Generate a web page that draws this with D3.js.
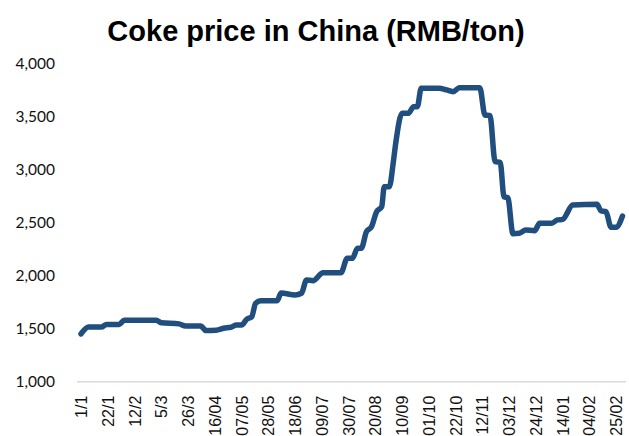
<!DOCTYPE html>
<html>
<head>
<meta charset="utf-8">
<script src="https://cdn.jsdelivr.net/npm/d3@7"></script>
<style>
  body { margin: 0; background: #fff; }
  svg { display: block; }
</style>
</head>
<body>
<div id="chart"></div>
<script>
// Coke price readings (dates where the curve turns)
const dates = [
  "2021-01-01", "2021-01-07", "2021-01-17", "2021-01-21", "2021-01-31", "2021-02-04",
  "2021-03-01", "2021-03-05", "2021-03-19", "2021-03-24", "2021-04-05", "2021-04-09",
  "2021-04-17", "2021-04-23", "2021-04-29", "2021-05-03", "2021-05-07", "2021-05-11",
  "2021-05-15", "2021-05-18", "2021-05-22", "2021-06-04", "2021-06-07", "2021-06-18",
  "2021-06-23", "2021-06-27", "2021-07-02", "2021-07-10", "2021-07-24", "2021-07-29",
  "2021-08-02", "2021-08-06", "2021-08-09", "2021-08-13", "2021-08-17", "2021-08-21",
  "2021-08-25", "2021-08-27", "2021-08-31", "2021-09-03", "2021-09-05", "2021-09-10",
  "2021-09-15", "2021-09-19", "2021-09-22", "2021-09-25", "2021-10-09", "2021-10-15",
  "2021-10-20", "2021-10-25", "2021-11-10", "2021-11-14", "2021-11-18", "2021-11-22",
  "2021-11-26", "2021-11-29", "2021-12-02", "2021-12-06", "2021-12-11", "2021-12-16",
  "2021-12-23", "2021-12-27", "2022-01-05", "2022-01-10", "2022-01-14", "2022-01-22",
  "2022-02-10", "2022-02-13", "2022-02-17", "2022-02-21", "2022-02-25", "2022-03-02"
];
const prices = [
  1450, 1515, 1515, 1540, 1540, 1580,
  1580, 1555, 1545, 1525, 1525, 1482,
  1485, 1503, 1515, 1534, 1534, 1588,
  1612, 1738, 1763, 1763, 1835, 1817,
  1833, 1958, 1952, 2027, 2027, 2163,
  2163, 2257, 2257, 2413, 2460, 2602,
  2649, 2837, 2837, 3058, 3246, 3529,
  3529, 3591, 3591, 3765, 3765, 3749,
  3733, 3770, 3770, 3513, 3506, 3073,
  3067, 2743, 2734, 2395, 2398, 2430,
  2423, 2492, 2492, 2524, 2530, 2665,
  2672, 2611, 2602, 2455, 2455, 2561
];

// x tick labels, one every 21 days from 1 Jan
const tickLabels = ["1/1", "22/1", "12/2", "5/3", "26/3", "16/04", "07/05", "28/05", "18/06",
  "09/07", "30/07", "20/08", "10/09", "01/10", "22/10", "12/11", "03/12", "24/12",
  "14/01", "04/02", "25/02"];
const yTicks = [1000, 1500, 2000, 2500, 3000, 3500, 4000];

const parseDate = d3.timeParse("%Y-%m-%d");
const data = dates.map((d, i) => ({ date: parseDate(d), price: prices[i] }));

const width = 629, height = 436;
const svg = d3.select("#chart").append("svg")
    .attr("width", width)
    .attr("height", height);

const start = parseDate("2021-01-01");
const tickDates = tickLabels.map((d, i) => d3.timeDay.offset(start, i * 21));

const xScale = d3.scaleTime()
    .domain([start, parseDate("2022-03-02")])
    .range([81, 622.5]);

const yScale = d3.scaleLinear()
    .domain([1000, 4000])
    .range([381.7, 63.3]);

// title
svg.append("text")
    .attr("x", 316)
    .attr("y", 41)
    .attr("text-anchor", "middle")
    .style("font-family", "'Liberation Sans', Arial, sans-serif")
    .style("font-weight", "bold")
    .style("font-size", "29px")
    .attr("fill", "#000")
    .text("Coke price in China (RMB/ton)");

// y axis labels only
const yAxis = d3.axisLeft(yScale)
    .tickValues(yTicks)
    .tickFormat(d3.format(","))
    .tickSize(0)
    .tickPadding(0);
const yg = svg.append("g")
    .attr("transform", "translate(55,0)")
    .call(yAxis);
yg.select(".domain").remove();
yg.selectAll("text")
    .style("font-family", "Lato, 'Open Sans', sans-serif")
    .style("font-size", "15.5px")
    .attr("fill", "#111");

// x axis baseline
svg.append("line")
    .attr("x1", 77)
    .attr("x2", 626)
    .attr("y1", yScale(1000))
    .attr("y2", yScale(1000))
    .attr("stroke", "#d9d9d9")
    .attr("stroke-width", 1.5);

// x axis labels, rotated
const xAxis = d3.axisBottom(xScale)
    .tickValues(tickDates)
    .tickFormat((d, i) => tickLabels[i])
    .tickSize(0);
const xg = svg.append("g")
    .attr("transform", `translate(0,${yScale(1000)})`)
    .call(xAxis);
xg.select(".domain").remove();
xg.selectAll("text")
    .attr("transform", "rotate(-90)")
    .attr("x", -14)
    .attr("y", 0)
    .attr("dy", "0.35em")
    .style("text-anchor", "end")
    .style("font-family", "'Liberation Sans', Arial, sans-serif")
    .style("font-size", "16px")
    .attr("fill", "#111");

// price line
const line = d3.line()
    .x(d => xScale(d.date))
    .y(d => yScale(d.price))
    .curve(d3.curveMonotoneX);

svg.append("path")
    .datum(data)
    .attr("fill", "none")
    .attr("stroke", "#1f4e7f")
    .attr("stroke-width", 5.5)
    .attr("stroke-linecap", "round")
    .attr("stroke-linejoin", "round")
    .attr("d", line);
</script>
</body>
</html>
